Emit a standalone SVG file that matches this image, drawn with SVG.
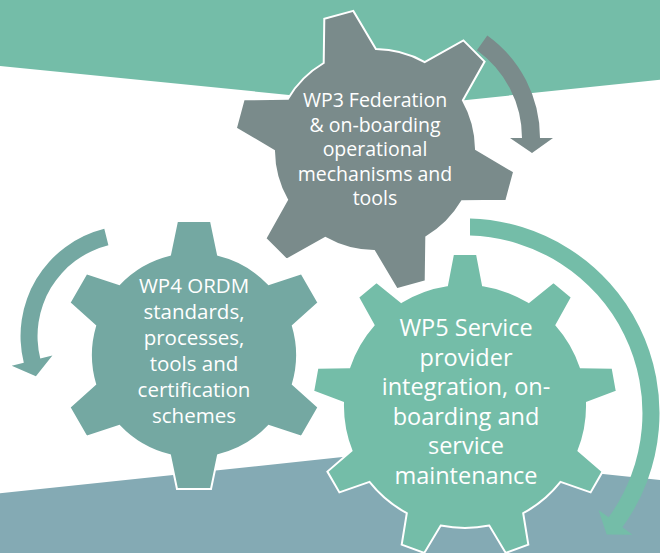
<svg xmlns="http://www.w3.org/2000/svg" width="660" height="553" viewBox="0 0 660 553">
<style>
.gear{stroke:#ffffff;stroke-width:2;stroke-linejoin:miter}
.lbl{font-family:"Open Sans","Liberation Sans",sans-serif;fill:#ffffff;text-anchor:middle}
</style>
<rect x="0" y="0" width="660" height="553" fill="#ffffff"/>
<g id="background">
<polygon points="0,0 660,0 660,79.8 404,106.4 0,66" fill="#74BDA8"/>
<polygon points="0,553 660,553 660,480 391.5,451.8 0,493.3" fill="#84AAB4"/>
</g>
<g id="connectors">
<path id="arrow-wp3" fill="#7A8B8B" d="M 487.3,35.5 A 126 126 0 0 1 540,138 L 553,138 L 532,153 L 510,138 L 522,138 A 108 108 0 0 0 476.9,50.2 Z"/>
<path id="arrow-wp4" fill="#74A8A2" d="M 104.3,228.8 A 110.5 110.5 0 0 0 23.8,362.7 L 11.7,365.8 L 35.9,376.2 L 52.4,355.6 L 40.3,358.6 A 93.5 93.5 0 0 1 108.4,245.3 Z"/>
<path id="arrow-wp5" fill="#74BDA8" d="M 470,218.6 A 194.5 194.5 0 0 1 622.4,527.3 L 632.5,534.7 L 606.7,534.4 L 598.5,510 L 608.6,517.3 A 177.5 177.5 0 0 0 470,235.6 Z"/>
</g>
<g id="wp3">
<path class="gear" fill="#7A8B8B" d="M 323.7,63 L 324.3,18.7 L 353.3,10.9 L 375.9,49 A 101 101 0 0 1 424.7,62.1 L 463.4,40.4 L 484.6,61.6 L 462.9,100.3 A 101 101 0 0 1 476,149.1 L 514.1,171.7 L 506.3,200.7 L 462,201.3 A 101 101 0 0 1 426.3,237 L 425.7,281.3 L 396.7,289.1 L 374.1,251 A 101 101 0 0 1 325.3,237.9 L 286.6,259.6 L 265.4,238.4 L 287.1,199.7 A 101 101 0 0 1 274,150.9 L 235.9,128.3 L 243.7,99.3 L 288,98.7 A 101 101 0 0 1 323.7,63 Z"/>
<text class="lbl" font-size="19.5"><tspan x="375" y="107">WP3 Federation</tspan><tspan x="375" y="131.5">&amp; on-boarding</tspan><tspan x="375" y="156">operational</tspan><tspan x="375" y="180.5">mechanisms and</tspan><tspan x="375" y="205">tools</tspan></text>
</g>
<g id="wp4">
<path class="gear" fill="#74A8A2" d="M 170,254.8 L 177,221 L 211,221 L 218,254.8 A 103 103 0 0 1 268.7,284.1 L 301.5,273.3 L 318.5,302.7 L 292.8,325.7 A 103 103 0 0 1 292.8,384.3 L 318.5,407.3 L 301.5,436.7 L 268.7,425.9 A 103 103 0 0 1 218,455.2 L 211,489 L 177,489 L 170,455.2 A 103 103 0 0 1 119.3,425.9 L 86.5,436.7 L 69.5,407.3 L 95.2,384.3 A 103 103 0 0 1 95.2,325.7 L 69.5,302.7 L 86.5,273.3 L 119.3,284.1 A 103 103 0 0 1 170,254.8 Z"/>
<text class="lbl" font-size="20.5"><tspan x="194" y="293">WP4 ORDM</tspan><tspan x="194" y="319">standards,</tspan><tspan x="194" y="345">processes,</tspan><tspan x="194" y="371">tools and</tspan><tspan x="194" y="397">certification</tspan><tspan x="194" y="423">schemes</tspan></text>
</g>
<g id="wp5">
<path class="gear" fill="#74BDA8" d="M 447,285.3 L 453,254 L 477,254 L 483,285.3 A 122 122 0 0 1 528.7,302 L 553.5,281.9 L 571.9,297.3 L 556.4,325.2 A 122 122 0 0 1 580.7,367.3 L 612.6,367.8 L 616.8,391.4 L 587,402.8 A 122 122 0 0 1 578.5,450.7 L 602.6,471.6 L 590.6,492.4 L 560.5,481.9 A 122 122 0 0 1 523.2,513.2 L 528.3,544.7 L 505.7,552.9 L 489.3,525.5 A 122 122 0 0 1 440.7,525.5 L 424.3,552.9 L 401.7,544.7 L 406.8,513.2 A 122 122 0 0 1 369.5,481.9 L 339.4,492.4 L 327.4,471.6 L 351.5,450.7 A 122 122 0 0 1 343,402.8 L 313.2,391.4 L 317.4,367.8 L 349.3,367.3 A 122 122 0 0 1 373.6,325.2 L 358.1,297.3 L 376.5,281.9 L 401.3,302 A 122 122 0 0 1 447,285.3 Z"/>
<text class="lbl" font-size="23.5"><tspan x="466" y="336">WP5 Service</tspan><tspan x="466" y="365.6">provider</tspan><tspan x="466" y="395.2">integration, on-</tspan><tspan x="466" y="424.8">boarding and</tspan><tspan x="466" y="454.4">service</tspan><tspan x="466" y="484">maintenance</tspan></text>
</g>
</svg>
